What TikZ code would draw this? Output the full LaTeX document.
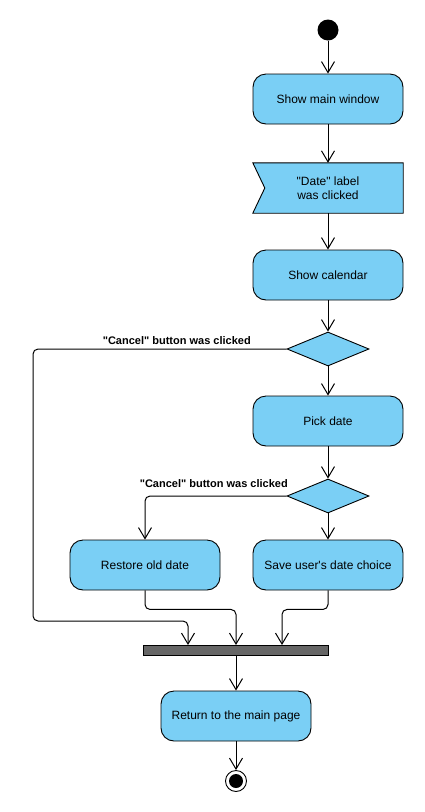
\documentclass[tikz,border=0pt]{standalone}
\usepackage{fontspec}
\setmainfont{Liberation Sans}[Ligatures=TeXOff]
\usetikzlibrary{positioning,calc,shapes.geometric,arrows.meta,backgrounds}

\definecolor{actblue}{RGB}{122,207,245}
\definecolor{bargray}{RGB}{102,102,102}

\begin{document}
\begin{tikzpicture}[
    x=1pt, y=-1pt,
    action/.style={rectangle, draw, line width=0.9pt, rounded corners=13pt, fill=actblue, minimum width=150pt, minimum height=50pt, font=\fontsize{12}{14}\selectfont},
    signal/.style={rectangle, minimum width=150pt, minimum height=50pt, align=center, font=\fontsize{12}{14}\selectfont},
    choice/.style={diamond, draw, line width=0.9pt, fill=actblue, minimum width=82pt, minimum height=34pt, inner sep=0pt},
    sync/.style={rectangle, draw, line width=0.9pt, fill=bargray, minimum width=185pt, minimum height=10pt, inner sep=0pt},
    flow/.style={draw, line width=1pt, rounded corners=5pt, -{Straight Barb[length=11pt, width=13pt]}},
    guard/.style={font=\bfseries\fontsize{11}{13}\selectfont, inner sep=0pt}
]
\useasboundingbox (0,0) rectangle (424,812);

% Define node positions
\node[circle, fill=black, minimum size=21pt, inner sep=0pt] (start) at (328,30) {};
\node[action] (mainwin) at (328,99) {Show main window};
\node[signal] (datelbl) at (328,188) {"Date" label\\was clicked};
\node[action] (calendar) at (328,275) {Show calendar};
\node[choice] (dec1) at (328,349) {};
\node[action] (pick) at (328,421) {Pick date};
\node[choice] (dec2) at (328,496) {};
\node[action] (restore) at (145,565) {Restore old date};
\node[action] (save) at (328,565) {Save user's date choice};
\node[sync] (bar) at (236,650) {};
\node[action] (back) at (236,716) {Return to the main page};
\node[circle, draw, line width=0.9pt, fill=white, minimum size=21pt, inner sep=0pt,
      path picture={\fill[black] (path picture bounding box.center) circle (7pt);}] (stop) at (236,781) {};

% Notched shape behind the signal text
\begin{scope}[on background layer]
\filldraw[fill=actblue, line width=0.9pt] (datelbl.north west) -- (datelbl.north east) -- (datelbl.south east)
    -- (datelbl.south west) -- ($(datelbl.west)+(12,0)$) -- cycle;
\end{scope}

% Entry points on the bar
\coordinate (j1) at (188,645);
\coordinate (j2) at (236,645);
\coordinate (j3) at (282,645);

% Guard labels
\node[guard, anchor=base east] (cancel1) at (251,344) {"Cancel" button was clicked};
\node[guard, anchor=base east] (cancel2) at (288,487) {"Cancel" button was clicked};

% Draw the flow
\draw[flow] (start) -- (mainwin);
\draw[flow] (mainwin) -- (datelbl);
\draw[flow] (datelbl) -- (calendar);
\draw[flow] (calendar) -- (dec1);
\draw[flow] (dec1) -- (pick);
\draw[flow] (pick) -- (dec2);
\draw[flow] (dec2) -- (save);
\draw[flow] (dec1.west) -| (33,621) -| (j1);
\draw[flow] (dec2.west) -| (restore);
\draw[flow] (restore.south) -- ++(0,19) -| (j2);
\draw[flow] (save.south) -- ++(0,19) -| (j3);
\draw[flow] (bar) -- (back);
\draw[flow] (back) -- (stop);

\end{tikzpicture}
\end{document}
